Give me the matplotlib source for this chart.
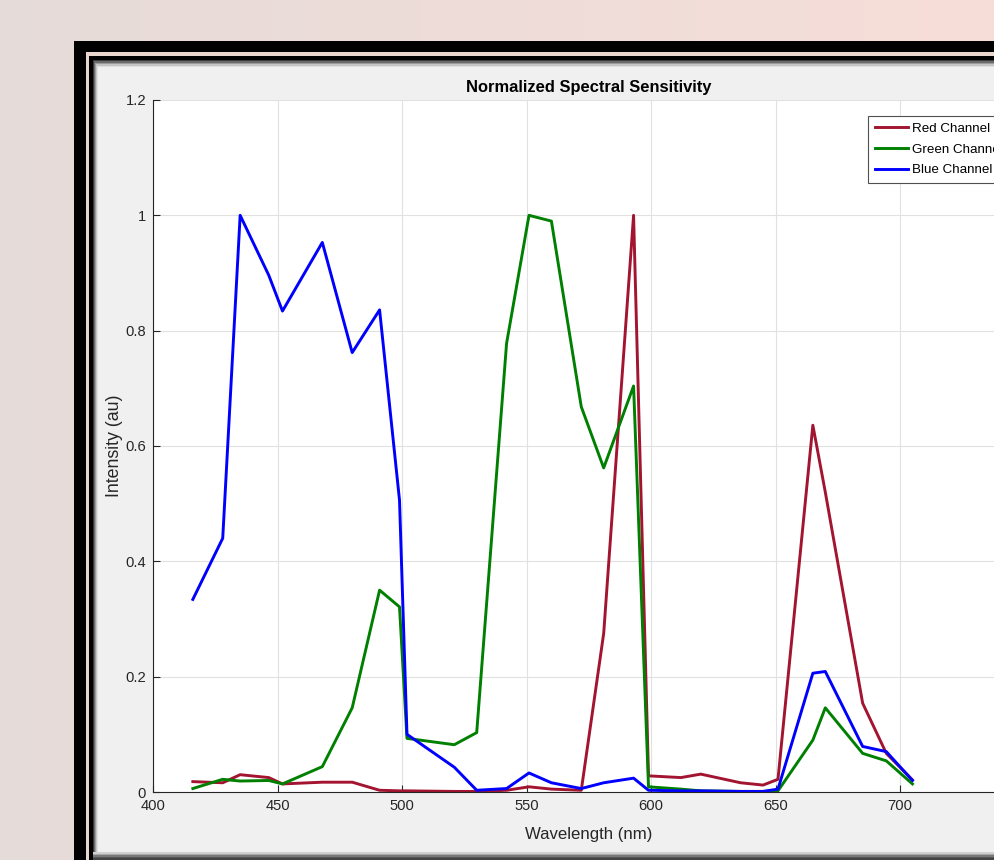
import matplotlib.pyplot as plt
import numpy as np
from matplotlib.patches import Rectangle

plt.rcParams["font.family"] = ["Liberation Sans", "DejaVu Sans"]

# wavelength samples (nm) shared by all three channels
wavelength = [416, 428, 435, 446.5, 452, 468, 480, 491, 499, 502, 521, 530, 542, 551, 560,
              572, 581, 593, 599, 612, 620, 636, 645, 651, 665, 670, 685, 694.5, 705]

red_channel = [0.018, 0.016, 0.030, 0.025, 0.014, 0.017, 0.017, 0.003, 0.002, 0.002, 0.001,
               0.001, 0.003, 0.009, 0.005, 0.003, 0.275, 1.000, 0.028, 0.025, 0.031, 0.016,
               0.012, 0.022, 0.636, 0.520, 0.154, 0.067, 0.021]

green_channel = [0.006, 0.022, 0.019, 0.020, 0.014, 0.044, 0.146, 0.350, 0.321, 0.093, 0.082,
                 0.103, 0.778, 1.000, 0.990, 0.668, 0.562, 0.704, 0.009, 0.005, 0.002, 0.001,
                 0.001, 0.002, 0.090, 0.146, 0.067, 0.054, 0.014]

blue_channel = [0.334, 0.440, 1.000, 0.896, 0.834, 0.953, 0.762, 0.836, 0.506, 0.100, 0.043,
                0.003, 0.006, 0.033, 0.016, 0.006, 0.016, 0.024, 0.003, 0.002, 0.002, 0.001,
                0.001, 0.005, 0.206, 0.209, 0.079, 0.070, 0.020]

x_ticks = [400, 450, 500, 550, 600, 650, 700, 750]
y_ticks = [0, 0.2, 0.4, 0.6, 0.8, 1.0, 1.2]
y_tick_labels = ["0", "0.2", "0.4", "0.6", "0.8", "1", "1.2"]

W, H = 995, 860
fig = plt.figure(figsize=(W / 100, H / 100), dpi=100)

# screenshot backdrop: pinkish wall, black frame, grey MATLAB window
bg = fig.add_axes([0, 0, 1, 1], zorder=-10)
bg.set_xlim(0, W)
bg.set_ylim(H, 0)
bg.axis("off")
grad = np.linspace(0, 1, 256)[None, :]
left_col = np.array([0.90, 0.86, 0.85])
right_col = np.array([0.97, 0.87, 0.85])
img = left_col[None, None, :] * (1 - grad[..., None]) + right_col[None, None, :] * grad[..., None]
bg.imshow(img, extent=[0, W, H, 0], aspect="auto", zorder=0)

bg.add_patch(Rectangle((74, 41), W, H, facecolor="black", edgecolor="none", zorder=1))
bg.add_patch(Rectangle((86, 52), W, H, facecolor="#e9d6cf", edgecolor="none", zorder=2))
bg.add_patch(Rectangle((89, 56), W, H, facecolor="black", edgecolor="none", zorder=3))
shades = ["#3a3a3a", "#6a6a6a", "#9a9a9a", "#c4c4c4", "#dedede"]
for i, c in enumerate(shades):
    bg.add_patch(Rectangle((93 + i, 60 + i * 1.4), W, H, facecolor=c, edgecolor="none", zorder=4 + i))
bg.add_patch(Rectangle((98, 67), W, 786, facecolor="#f0f0f0", edgecolor="none", zorder=10))
for i, c in enumerate(["#d0d0d0", "#a8a8a8", "#7a7a7a", "#555555", "#444444"]):
    bg.add_patch(Rectangle((93, 852 + i * 1.6), W, 2, facecolor=c, edgecolor="none", zorder=11))

# main axes
ax = fig.add_axes([153 / W, (H - 792) / H, 871.5 / W, 692 / H])
ax.set_facecolor("white")

ax.plot(wavelength, red_channel, color="#A2142F", lw=2.1, label="Red Channel")
ax.plot(wavelength, green_channel, color="#008000", lw=2.1, label="Green Channel")
ax.plot(wavelength, blue_channel, color="#0000FF", lw=2.1, label="Blue Channel")

ax.set_xlim(400, 750)
ax.set_ylim(0, 1.2)
ax.set_xticks(x_ticks)
ax.set_yticks(y_ticks)
ax.set_yticklabels(y_tick_labels)
ax.grid(True, color="#e1e1e1", lw=0.8)
ax.set_axisbelow(True)

for side in ["top", "right"]:
    ax.spines[side].set_visible(False)
for side in ["left", "bottom"]:
    ax.spines[side].set_color("#262626")
    ax.spines[side].set_linewidth(0.8)
ax.tick_params(direction="in", length=5, width=0.8, color="#262626",
               labelcolor="#262626", labelsize=10.6, pad=5)

ax.set_title("Normalized Spectral Sensitivity", fontsize=11.9, fontweight="bold", pad=6)
ax.set_xlabel("Wavelength (nm)", fontsize=12.1, color="#262626", labelpad=10)
ax.set_ylabel("Intensity (au)", fontsize=12.8, color="#262626", labelpad=2)

leg = ax.legend(loc="upper left", bbox_to_anchor=((868 - 153) / 871.5, (792 - 116) / 692),
                borderaxespad=0, fancybox=False, fontsize=9.6, handlelength=2.5,
                handletextpad=0.3, labelspacing=0.62, borderpad=0.5, framealpha=1)
leg.get_frame().set_edgecolor("#505050")
leg.get_frame().set_linewidth(0.8)

fig.savefig("out.png", dpi=100)
